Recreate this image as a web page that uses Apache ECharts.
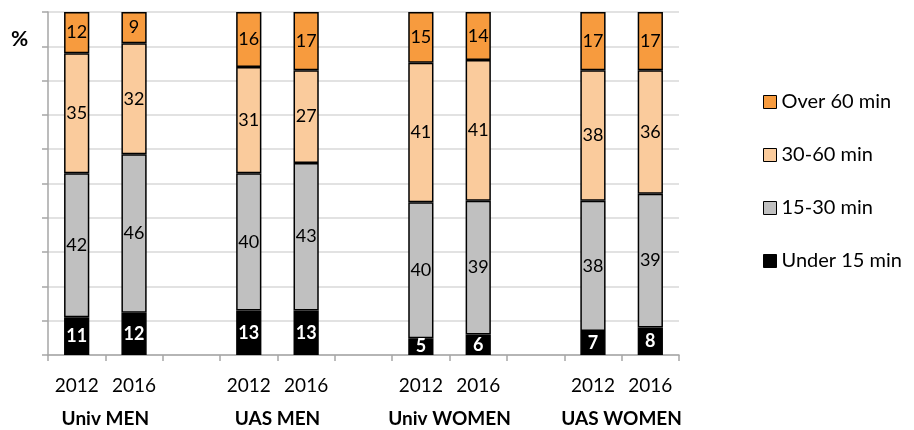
<!DOCTYPE html>
<html>
<head>
<meta charset="utf-8">
<script src="https://cdn.jsdelivr.net/npm/echarts@6/dist/echarts.min.js"></script>
<style>
  html, body { margin: 0; padding: 0; background: #ffffff; }
  #main { width: 914px; height: 430px; }
</style>
</head>
<body>
<div id="main"></div>
<script>
var years = ['2012', '2016', '', '2012', '2016', '', '2012', '2016', '', '2012', '2016'];
var groups = ['', 'Univ MEN', '', '', 'UAS MEN', '', '', 'Univ WOMEN', '', '', 'UAS WOMEN', ''];

var under15 = [11, 12.3, '-', 13, 13, '-', 4.9, 6, '-', 7, 8];
var min15to30 = [42, 46.2, '-', 40, 43, '-', 39.6, 39, '-', 38, 39];
var min30to60 = [35, 32.4, '-', 31, 27, '-', 40.7, 41, '-', 38, 36];
var over60 = [12, 9.1, '-', 16, 17, '-', 14.8, 14, '-', 17, 17];

var chartDom = document.getElementById('main');
var myChart = echarts.init(chartDom);
var font = 'Lato';

function seg(name, data, color, labelColor, bold) {
    return {
        name: name,
        type: 'bar',
        stack: 'total',
        barWidth: '44%',
        data: data,
        itemStyle: { color: color, borderColor: '#000000', borderWidth: 1.5 },
        label: {
            show: true,
            position: 'inside',
            color: labelColor,
            fontFamily: font,
            fontSize: 18,
            fontWeight: bold ? 'bold' : 'normal',
            formatter: function (p) { return Math.round(p.value); }
        },
        emphasis: { disabled: true }
    };
}

var option = {
    animation: false,
    title: {
        text: '%',
        left: 6,
        top: 24,
        textStyle: { fontFamily: font, fontSize: 21, fontWeight: 'bold', color: '#000000' }
    },
    legend: {
        orient: 'vertical',
        left: 763,
        top: 92,
        padding: 0,
        itemGap: 33,
        itemWidth: 13,
        itemHeight: 13,
        icon: 'rect',
        itemStyle: { borderColor: '#000000', borderWidth: 1 },
        textStyle: { fontFamily: font, fontSize: 20, color: '#000000' },
        data: ['Over 60 min', '30-60 min', '15-30 min', 'Under 15 min']
    },
    grid: {
        left: 48,
        right: 235,
        top: 12,
        bottom: 75
    },
    xAxis: [{
        type: 'category',
        data: years,
        axisLine: { lineStyle: { color: '#a6a6a6', width: 1.5 } },
        axisTick: { show: true, length: 6, lineStyle: { color: '#a6a6a6', width: 1.5 } },
        axisLabel: { interval: 0, margin: 21, color: '#000000', fontFamily: font, fontSize: 19 }
    },
    {
        type: 'category',
        position: 'bottom',
        boundaryGap: false,
        data: groups,
        axisLine: { show: false },
        axisTick: { show: false },
        axisLabel: { interval: 0, margin: 54, color: '#000000', fontFamily: font, fontSize: 19, fontWeight: 'bold' }
    }],
    yAxis: {
        type: 'value',
        min: 0,
        max: 100,
        interval: 10,
        axisLine: { show: true, lineStyle: { color: '#a6a6a6', width: 1.5 } },
        axisTick: { show: true, length: 6, lineStyle: { color: '#a6a6a6', width: 1.5 } },
        axisLabel: { show: false },
        splitLine: { lineStyle: { color: '#d9d9d9', width: 1.5 } }
    },
    series: [
        seg('Under 15 min', under15, '#000000', '#ffffff', true),
        seg('15-30 min', min15to30, '#c0c0c0', '#000000', false),
        seg('30-60 min', min30to60, '#facb9c', '#000000', false),
        seg('Over 60 min', over60, '#f79b3e', '#000000', false)
    ]
};

myChart.setOption(option);
</script>
</body>
</html>
